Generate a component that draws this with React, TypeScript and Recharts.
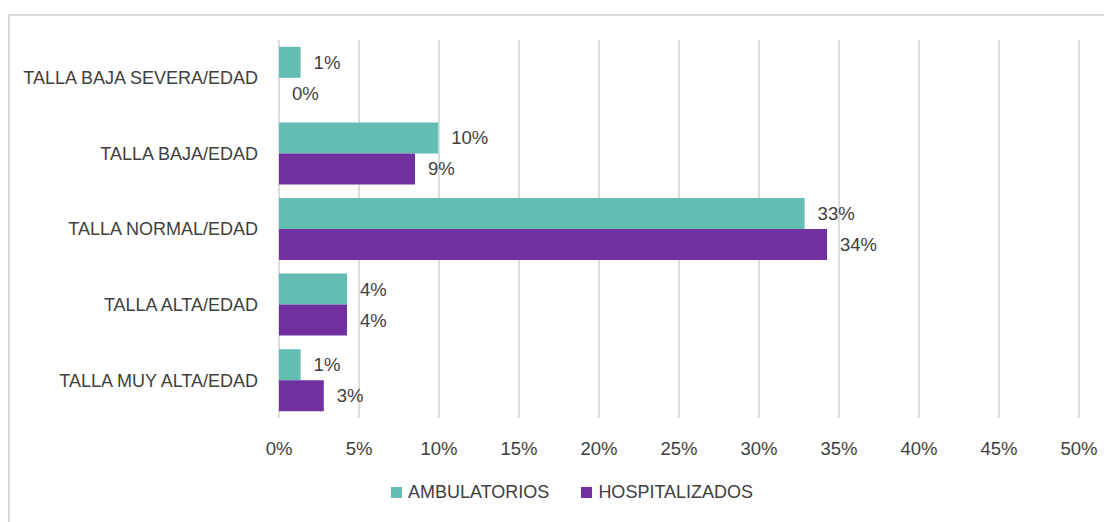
import React from 'react'
import { BarChart, Bar, XAxis, YAxis, CartesianGrid, Legend, LabelList } from 'recharts'

const categories = [
  'TALLA BAJA SEVERA/EDAD',
  'TALLA BAJA/EDAD',
  'TALLA NORMAL/EDAD',
  'TALLA ALTA/EDAD',
  'TALLA MUY ALTA/EDAD',
]
const ambulatorios = [1.35, 9.95, 32.85, 4.25, 1.35]
const hospitalizados = [0, 8.5, 34.25, 4.25, 2.8]
const xTicks = [0, 5, 10, 15, 20, 25, 30, 35, 40, 45, 50]

const data = categories.map((name, i) => ({
  name,
  ambulatorios: ambulatorios[i],
  hospitalizados: hospitalizados[i],
}))

const TEXT = '#404040'
const FONT = '"Liberation Sans", Arial, sans-serif'

const pct = (v: any) => `${Math.round(Number(v))}%`

// zero bars get dropped from the label list, so give them a sub-pixel width
const tinyMin = (v: any) => (Number(v) === 0 ? 0.01 : 0)

const barLabel = (props: any) => {
  const { x, y, width, height, value } = props
  const bx = Number(x) + Math.max(Number(width) || 0, 0) + 13
  const by = Number(y) + Number(height) / 2
  return (
    <text x={bx} y={by} dy="0.35em" textAnchor="start" fontSize={18.5} fill={TEXT} fontFamily={FONT}>
      {pct(value)}
    </text>
  )
}

const renderLegend = (props: any) => {
  const { payload } = props
  return (
    <div style={{ display: 'flex', alignItems: 'center', fontFamily: FONT, fontSize: 18, color: TEXT, whiteSpace: 'nowrap' }}>
      {payload.map((p: any, i: number) => (
        <span key={p.value} style={{ display: 'flex', alignItems: 'center', marginRight: i === 0 ? 32 : 0 }}>
          <span style={{ display: 'inline-block', width: 11, height: 11, background: p.color, marginRight: 6 }} />
          {p.value}
        </span>
      ))}
    </div>
  )
}

export default function App() {
  return (
    <div style={{ width: 1104, height: 514, overflow: 'hidden' }}>
      <div style={{ marginTop: 6, width: 1130, height: 520, border: '2px solid #d9d9d9', background: '#fff' }}>
        <BarChart
          width={1120}
          height={506}
          data={data}
          layout="vertical"
          margin={{ top: 24, right: 51, bottom: 74, left: 0 }}
          barCategoryGap="9%"
          barGap={0}
          style={{ fontFamily: FONT }}
        >
          <CartesianGrid horizontal={false} stroke="#d9d9d9" strokeWidth={1.8} />
          <XAxis
            type="number"
            domain={[0, 50]}
            ticks={xTicks}
            tickFormatter={(v) => `${v}%`}
            axisLine={false}
            tickLine={false}
            tickMargin={18}
            tick={{ fontSize: 18.5, fill: TEXT }}
            interval={0}
          />
          <YAxis
            type="category"
            dataKey="name"
            width={269}
            axisLine={false}
            tickLine={false}
            tickMargin={15}
            tick={{ fontSize: 18, fill: TEXT }}
            interval={0}
          />
          <Legend
            layout="horizontal"
            verticalAlign="middle"
            align="center"
            content={renderLegend}
            wrapperStyle={{ top: 466, left: 381, width: 'auto' }}
          />
          <Bar dataKey="ambulatorios" name="AMBULATORIOS" fill="#63bdb3" isAnimationActive={false}>
            <LabelList dataKey="ambulatorios" content={barLabel} />
          </Bar>
          <Bar dataKey="hospitalizados" name="HOSPITALIZADOS" fill="#7030a0" minPointSize={tinyMin} isAnimationActive={false}>
            <LabelList dataKey="hospitalizados" content={barLabel} />
          </Bar>
        </BarChart>
      </div>
    </div>
  )
}
